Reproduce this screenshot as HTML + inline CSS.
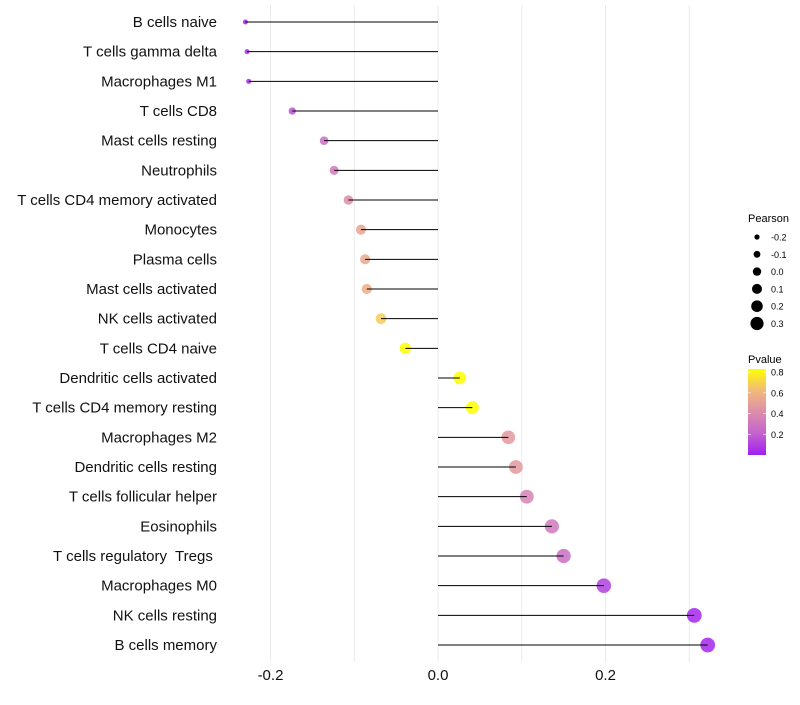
<!DOCTYPE html>
<html><head><meta charset="utf-8"><style>
body{margin:0;background:#fff;font-family:"Liberation Sans",sans-serif}
text{white-space:pre}
</style></head><body>
<svg id="c" width="800" height="700" xmlns="http://www.w3.org/2000/svg" font-family="Liberation Sans, sans-serif">
<defs><linearGradient id="pg" x1="0" y1="1" x2="0" y2="0">
<stop offset="0" stop-color="#a020f0"/><stop offset="0.25" stop-color="#c462cf"/><stop offset="0.5" stop-color="#dc8eaa"/><stop offset="0.75" stop-color="#f2b97a"/><stop offset="1" stop-color="#ffff00"/></linearGradient></defs>
</svg>
<script>
const categories=["B cells naive","T cells gamma delta","Macrophages M1","T cells CD8","Mast cells resting","Neutrophils","T cells CD4 memory activated","Monocytes","Plasma cells","Mast cells activated","NK cells activated","T cells CD4 naive","Dendritic cells activated","T cells CD4 memory resting","Macrophages M2","Dendritic cells resting","T cells follicular helper","Eosinophils","T cells regulatory  Tregs ","Macrophages M0","NK cells resting","B cells memory"];
const pearson=[-0.230,-0.228,-0.226,-0.174,-0.136,-0.124,-0.107,-0.092,-0.087,-0.085,-0.068,-0.039,0.026,0.041,0.084,0.093,0.106,0.136,0.150,0.198,0.306,0.322];
const pvalue=[0.02,0.03,0.04,0.15,0.25,0.3,0.4,0.5,0.52,0.55,0.65,0.8,0.85,0.8,0.45,0.45,0.35,0.3,0.25,0.1,0.02,0.02];
const xTicks=[-0.2,0.0,0.2];
const xTickLabels=["-0.2","0.0","0.2"];
const sizeBreaks=[-0.2,-0.1,0.0,0.1,0.2,0.3];
const sizeLabels=["-0.2","-0.1","0.0","0.1","0.2","0.3"];
const pTicks=[0.2,0.4,0.6,0.8];
const svg=document.getElementById('c');const NS="http://www.w3.org/2000/svg";
function x(v){return 438+v*837.5;}
function y(i){return 22+i*29.667;}
function r(v){const t=Math.max(0,(0.32-v)/0.55);return 7.4-4.9*Math.pow(t,2.5);}
function rl(v){return 2.6+(v+0.2)*8;}
const stops=[[0,[160,32,240]],[0.2,[196,98,207]],[0.4,[220,142,170]],[0.6,[242,185,122]],[0.8,[255,255,0]]];
function col(p){p=Math.max(0,Math.min(0.8,p));for(let k=1;k<stops.length;k++){if(p<=stops[k][0]){const a=stops[k-1],b=stops[k];const t=(p-a[0])/(b[0]-a[0]);const c=a[1].map((q,j)=>Math.round(q+(b[1][j]-q)*t));return `rgb(${c})`;}}return 'rgb(255,255,0)';}
function mk(t,at,parent){const e=document.createElementNS(NS,t);for(const k in at)e.setAttribute(k,at[k]);(parent||svg).appendChild(e);return e;}
[-0.2,-0.1,0,0.1,0.2,0.3].forEach(v=>{const g=mk('line',{x1:x(v),x2:x(v),y1:5,y2:662,stroke:'#ebebeb','stroke-width':1});

});
categories.forEach((c,i)=>{
const t=mk('text',{x:217,y:y(i)+5,'text-anchor':'end','font-size':15,fill:'#111'});t.textContent=c;


const p=mk('circle',{cx:x(pearson[i]),cy:y(i),r:r(pearson[i]),fill:col(pvalue[i]),'fill-opacity':0.85});


const l=mk('line',{x1:x(0),x2:x(pearson[i]),y1:y(i),y2:y(i),stroke:'#000','stroke-width':1});


});
xTicks.forEach((v,i)=>{const t=mk('text',{x:x(v),y:680,'text-anchor':'middle','font-size':15,fill:'#111'});t.textContent=xTickLabels[i];

});
let tt=mk('text',{x:748,y:222,'font-size':11});tt.textContent='Pearson';


sizeBreaks.forEach((v,i)=>{const cy=237+i*17.3;const c=mk('circle',{cx:757,cy:cy,r:rl(v),fill:'#000'});


const t=mk('text',{x:771,y:cy+3.5,'font-size':9});t.textContent=sizeLabels[i];

});
tt=mk('text',{x:748,y:363,'font-size':11});tt.textContent='Pvalue';


const bar=mk('rect',{x:748,y:369,width:18,height:86,fill:'url(#pg)'});


function py(p){return 455-p*(84/0.81);}
pTicks.forEach(p=>{const t=mk('text',{x:771,y:py(p)+3.5,'font-size':9});t.textContent=p.toFixed(1);


mk('line',{x1:748,x2:751,y1:py(p),y2:py(p),stroke:'#fff','stroke-width':0.6});mk('line',{x1:763,x2:766,y1:py(p),y2:py(p),stroke:'#fff','stroke-width':0.6});});
</script>
</body></html>
